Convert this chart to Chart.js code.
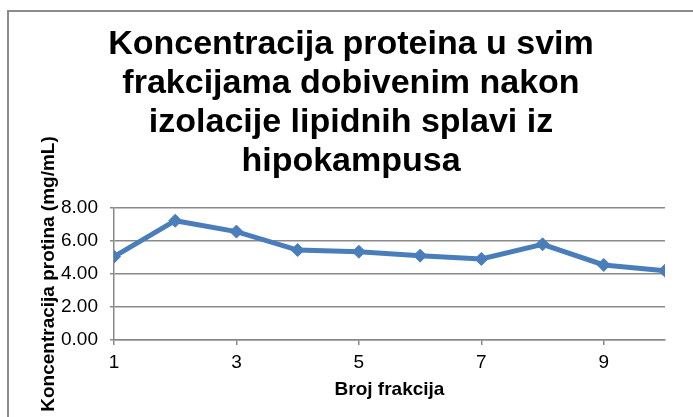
<!DOCTYPE html>
<html>
<head>
<meta charset="utf-8">
<script src="https://cdn.jsdelivr.net/npm/chart.js@4/dist/chart.umd.min.js"></script>
<style>
    html, body { margin: 0; padding: 0; background: #fff; overflow: hidden; }
    #wrap { position: relative; width: 693px; height: 417px; }
    #frame {
        position: absolute; left: 7px; top: 10px; width: 720px; height: 440px;
        border-left: 2px solid #8c8c8c; border-top: 2px solid #8c8c8c;
    }
    canvas { position: absolute; left: 0; top: 0; }
</style>
</head>
<body>
<div id="wrap">
    <div id="frame"></div>
    <canvas id="canvas" width="693" height="417"></canvas>
</div>
<script>
const fractions = [1, 2, 3, 4, 5, 6, 7, 8, 9, 10];
const concentrations = [5.05, 7.23, 6.57, 5.45, 5.35, 5.11, 4.91, 5.80, 4.55, 4.20];
const xTickValues = [1, 3, 5, 7, 9];
const titleLines = [
    'Koncentracija proteina u svim',
    'frakcijama dobivenim nakon',
    'izolacije lipidnih splavi iz',
    'hipokampusa'
];

const gridGray = '#898989';
const lineBlue = '#4a7ebb';
const fontFamily = '"Liberation Sans", Arial, sans-serif';

const drawChart = () => {
    const canvas = document.getElementById('canvas');

    const points = fractions.map((f, i) => ({ x: f, y: concentrations[i] }));

    const dataToCanvas = {
        datasets: [
            {
                label: 'Koncentracija',
                data: points,
                borderColor: lineBlue,
                backgroundColor: lineBlue,
                borderWidth: 5,
                pointStyle: 'rectRot',
                pointRadius: 6.5,
                pointBorderWidth: 1,
                tension: 0,
            }
        ]
    };

    const config = {
        type: 'line',
        data: dataToCanvas,
        options: {
            responsive: false,
            animation: false,
            layout: {
                padding: { left: 37, right: 28, top: 0, bottom: 0 }
            },
            plugins: {
                legend: { display: false },
                tooltip: { enabled: false },
                title: {
                    display: true,
                    text: titleLines,
                    color: '#000',
                    font: { family: fontFamily, size: 34, weight: 'bold', lineHeight: 39 / 34 },
                    padding: { top: 25, bottom: 27 }
                }
            },
            scales: {
                x: {
                    type: 'linear',
                    min: 1,
                    max: 10,
                    afterBuildTicks: axis => {
                        axis.ticks = xTickValues.map(v => ({ value: v }));
                    },
                    afterFit: scale => { scale.height = 77; },
                    grid: {
                        drawOnChartArea: false,
                        color: gridGray,
                        lineWidth: 1.5,
                        tickLength: 5,
                    },
                    border: { display: true, color: gridGray, width: 1.5 },
                    ticks: {
                        color: '#000',
                        font: { family: fontFamily, size: 19 },
                        padding: 6,
                        maxRotation: 0,
                    },
                    title: {
                        display: true,
                        text: 'Broj frakcija',
                        color: '#000',
                        font: { family: fontFamily, size: 19, weight: 'bold' },
                        padding: { top: 0, bottom: 16 }
                    }
                },
                y: {
                    min: 0,
                    max: 8,
                    afterFit: scale => { scale.width = 77; },
                    grid: {
                        color: gridGray,
                        lineWidth: 1.5,
                        tickLength: 4,
                    },
                    border: { display: true, color: gridGray, width: 1.5 },
                    ticks: {
                        stepSize: 2,
                        color: '#000',
                        font: { family: fontFamily, size: 19 },
                        padding: 12,
                        callback: v => v.toFixed(2)
                    },
                    title: {
                        display: true,
                        text: 'Koncentracija protina (mg/mL)',
                        color: '#000',
                        font: { family: fontFamily, size: 19, weight: 'bold' },
                        padding: { top: 0, bottom: 0 }
                    }
                }
            }
        }
    };

    const chart = new Chart(canvas, config);
};

drawChart();
</script>
</body>
</html>
